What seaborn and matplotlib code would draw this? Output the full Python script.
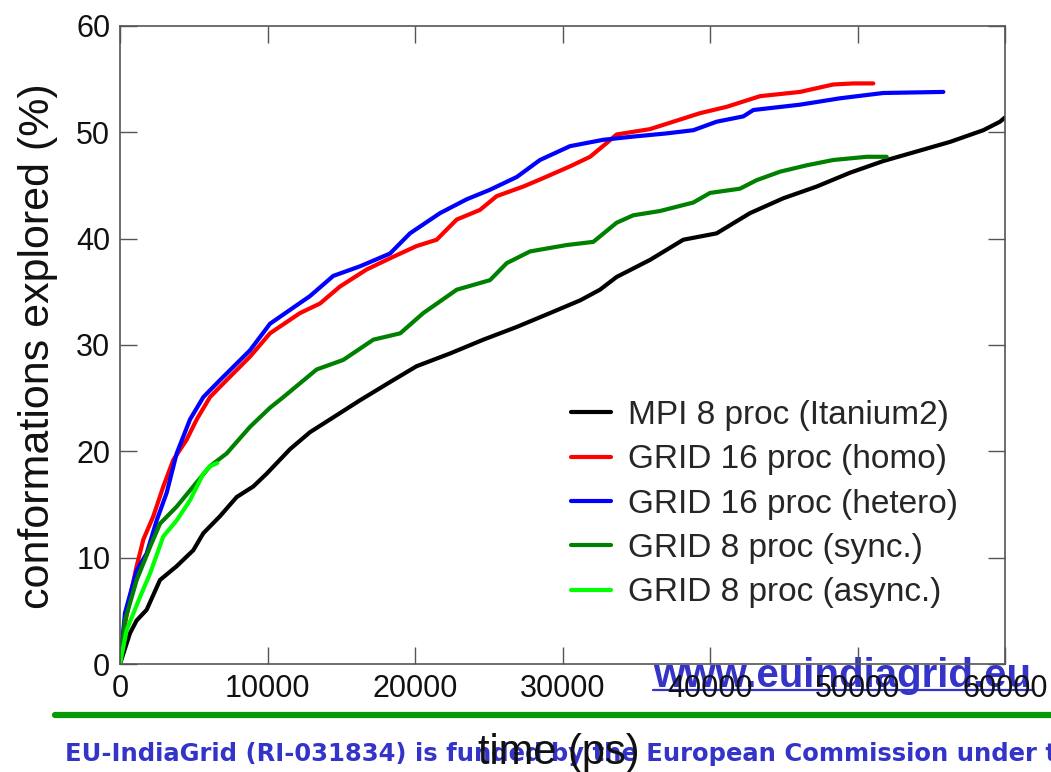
import matplotlib
matplotlib.use("Agg")
import matplotlib.pyplot as plt
from matplotlib.lines import Line2D
import seaborn as sns

# time (ps) / conformations explored (%)
t_mpi = [0, 678, 1130, 1808, 2712, 3842, 4970, 5650, 6780, 7910, 9040, 9944, 11525,
         12880, 14240, 16270, 18530, 20100, 22370, 24630, 26900, 29150, 31200, 32540,
         33670, 35930, 38190, 40450, 42710, 44970, 47230, 49490, 51750, 54010, 56270,
         58530, 59660, 60000]
y_mpi = [0, 2.9, 4.1, 5.1, 7.9, 9.2, 10.7, 12.3, 13.9, 15.7, 16.7, 17.9, 20.2,
         21.8, 23.0, 24.8, 26.7, 28.0, 29.2, 30.5, 31.7, 33.0, 34.2, 35.2,
         36.4, 38.0, 39.9, 40.5, 42.4, 43.8, 44.9, 46.2, 47.3, 48.2, 49.1,
         50.2, 51.0, 51.4]

t_homo = [0, 226, 678, 1130, 1582, 2260, 2937, 3616, 4520, 5200, 6100, 7230, 8813,
          10170, 12200, 13560, 14915, 16720, 18530, 20100, 21470, 22830, 24400, 25540,
          27340, 28700, 30510, 31870, 33000, 33670, 35930, 37510, 39320, 41130, 43390,
          46100, 48360, 49720, 51070]
y_homo = [0, 2.9, 6.3, 9.2, 11.7, 13.9, 16.7, 19.2, 21.1, 23.0, 25.1, 26.7, 28.9,
          31.1, 33.0, 33.9, 35.5, 37.1, 38.3, 39.3, 39.9, 41.8, 42.7, 44.0,
          44.9, 45.7, 46.8, 47.7, 49.0, 49.8, 50.3, 51.0, 51.8, 52.4, 53.4,
          53.8, 54.5, 54.6, 54.6]

t_hetero = [0, 339, 1130, 1808, 2486, 3164, 3842, 4746, 5650, 6780, 8813, 10170,
            11525, 12880, 14460, 16270, 18305, 19660, 21695, 23500, 25085, 26900,
            28475, 30510, 32770, 34800, 37060, 38870, 40450, 42260, 42940, 46100,
            48810, 51750, 55820]
y_hetero = [0, 4.8, 8.8, 10.4, 13.5, 16.1, 19.8, 23.0, 25.1, 26.7, 29.5, 32.0,
            33.3, 34.6, 36.5, 37.4, 38.6, 40.5, 42.4, 43.7, 44.6, 45.8,
            47.4, 48.7, 49.3, 49.6, 49.9, 50.2, 51.0, 51.5, 52.1, 52.6,
            53.2, 53.7, 53.8]

t_sync = [0, 339, 1130, 2034, 2712, 3842, 4970, 6100, 7230, 8813, 10170, 11075,
          13335, 15140, 17175, 19000, 20560, 22830, 25085, 26220, 27800, 30280,
          32090, 33670, 34800, 36610, 38870, 40000, 42030, 43160, 44750, 46560,
          48360, 50620, 51980]
y_sync = [0, 4.1, 7.9, 11.0, 13.2, 14.8, 16.7, 18.6, 19.8, 22.3, 24.1, 25.1,
          27.7, 28.6, 30.5, 31.1, 33.0, 35.2, 36.1, 37.7, 38.8, 39.4,
          39.7, 41.5, 42.2, 42.6, 43.4, 44.3, 44.7, 45.5, 46.3, 46.9,
          47.4, 47.7, 47.7]

t_async = [0, 452, 1356, 2034, 2937, 3842, 4746, 5650, 6100, 6600]
y_async = [0, 3.2, 6.3, 8.5, 12.0, 13.5, 15.4, 17.9, 18.6, 18.9]

labels = ["MPI 8 proc (Itanium2)", "GRID 16 proc (homo)", "GRID 16 proc (hetero)",
          "GRID 8 proc (sync.)", "GRID 8 proc (async.)"]
colors = ["black", "#ff0000", "#0000ff", "#008000", "#00ff00"]
series = [(t_mpi, y_mpi), (t_homo, y_homo), (t_hetero, y_hetero),
          (t_sync, y_sync), (t_async, y_async)]

x_ticks = [0, 10000, 20000, 30000, 40000, 50000, 60000]
y_ticks = [0, 10, 20, 30, 40, 50, 60]

sns.set_style("ticks")
plt.rcParams["font.family"] = ["Liberation Sans", "DejaVu Sans"]

fig = plt.figure(figsize=(10.51, 7.72), dpi=100)
ax = fig.add_axes([120 / 1051, 1 - 664 / 772, 885 / 1051, 638 / 772])
ax.patch.set_visible(False)

for (t, y), lab, col in zip(series, labels, colors):
    sns.lineplot(x=t, y=y, ax=ax, color=col, linewidth=3, label=lab,
                 estimator=None, sort=False)

ax.set_xlim(0, 60000)
ax.set_ylim(0, 60)
ax.set_xticks(x_ticks)
ax.set_yticks(y_ticks)
ax.set_xticklabels([str(v) for v in x_ticks])
ax.set_yticklabels([str(v) for v in y_ticks])
ax.tick_params(direction="in", top=True, right=True, length=12, width=1,
               color="#555555", labelsize=22, labelcolor="#111111", pad=7)
for sp in ax.spines.values():
    sp.set_color("#555555")
    sp.set_linewidth(1.2)

ax.set_ylabel("conformations explored (%)", fontsize=31, color="#111111")
ax.yaxis.set_label_coords(-0.07, 0.498)
ax.set_xlabel("time (ps)", fontsize=30, color="#111111")
ax.xaxis.set_label_coords(0.496, -0.108)

ax.legend(loc="upper left", bbox_to_anchor=(571 / 1051, 1 - 400 / 772),
          bbox_transform=fig.transFigure, frameon=False, fontsize=24,
          handlelength=1.2, handletextpad=0.5, labelspacing=0.4,
          borderpad=0, borderaxespad=0)

# slide decorations
blue = "#3434c8"
fig.text(653 / 1051, 1 - 687 / 772, "www.euindiagrid.eu", color=blue,
         fontsize=29, fontweight="bold", family="Liberation Sans",
         ha="left", va="baseline", zorder=-1)
fig.add_artist(Line2D([653 / 1051, 1032 / 1051], [1 - 690 / 772, 1 - 690 / 772],
                      color=blue, linewidth=1.6, zorder=-1))
fig.add_artist(Line2D([55 / 1051, 1.0], [1 - 714.5 / 772, 1 - 714.5 / 772],
                      color="#079a07", linewidth=4.5, zorder=-1))
fig.text(65 / 1051, 1 - 761.5 / 772,
         "EU-IndiaGrid (RI-031834) is funded by the European Commission under the Research Infrastructures",
         color=blue, fontsize=17.5, fontweight="bold", family="DejaVu Sans",
         ha="left", va="baseline", zorder=-1)

fig.savefig("out.png", dpi=100)
